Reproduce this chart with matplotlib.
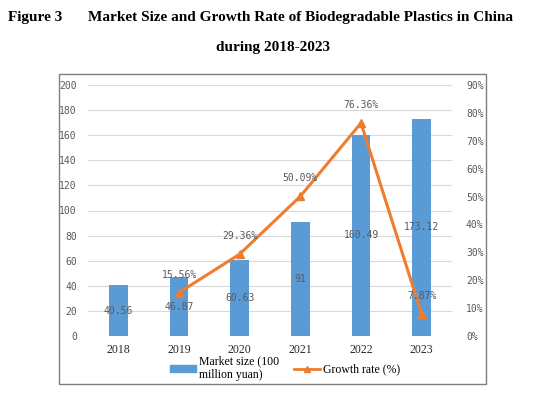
import matplotlib.pyplot as plt
from matplotlib.patches import Rectangle, Patch
from matplotlib.lines import Line2D

# data
years = ['2018', '2019', '2020', '2021', '2022', '2023']
market_size = [40.56, 46.87, 60.63, 91, 160.49, 173.12]
growth_years = ['2019', '2020', '2021', '2022', '2023']
growth_rate = [15.56, 29.36, 50.09, 76.36, 7.87]
size_labels = ['40.56', '46.87', '60.63', '91', '160.49', '173.12']
rate_labels = ['15.56%', '29.36%', '50.09%', '76.36%', '7.87%']

blue = '#5B9BD5'
orange = '#ED7D31'
grey_txt = '#595959'
mono = 'DejaVu Sans Mono'
serif = 'Liberation Serif'

fig = plt.figure(figsize=(5.44, 3.94), dpi=100)

# titles
fig.text(8 / 544, 1 - 17 / 394, 'Figure 3', fontsize=11, fontweight='bold',
         family=serif, va='center', ha='left')
fig.text(88 / 544, 1 - 17 / 394,
         'Market Size and Growth Rate of Biodegradable Plastics in China',
         fontsize=11, fontweight='bold', family=serif, va='center', ha='left')
fig.text(273 / 544, 1 - 48 / 394, 'during 2018-2023', fontsize=11,
         fontweight='bold', family=serif, va='center', ha='center')

# chart frame
fig.patches.append(Rectangle((59 / 544, 1 - 384 / 394), (486 - 59) / 544,
                             (384 - 74) / 394, transform=fig.transFigure,
                             fill=False, edgecolor='#7F7F7F', linewidth=1.0))

ax = fig.add_axes([88 / 544, 1 - 336 / 394, 364 / 544, 251 / 394])
x = list(range(len(years)))
ax.bar(x, market_size, width=0.31, color=blue, zorder=2)
ax.set_xlim(-0.5, len(years) - 0.5)
ax.set_ylim(0, 200)
ax.set_yticks(range(0, 201, 20))
ax.grid(axis='y', color='#D9D9D9', linewidth=0.8, zorder=0)
for s in ax.spines.values():
    s.set_visible(False)
ax.tick_params(length=0)
ax.set_xticks(x)
ax.set_xticklabels(years, family=serif, fontsize=8.5, color='#262626')
ax.tick_params(axis='x', pad=6)
for lab in ax.get_yticklabels():
    lab.set_family(mono)
    lab.set_fontsize(7)
    lab.set_color(grey_txt)
ax.tick_params(axis='y', pad=8)

for xi, v, t in zip(x, market_size, size_labels):
    ax.text(xi, v / 2, t, ha='center', va='center', family=mono,
            fontsize=7, color=grey_txt, zorder=4)

ax2 = ax.twinx()
gx = [years.index(y) for y in growth_years]
ax2.plot(gx, growth_rate, color=orange, linewidth=2.2, marker='^',
         markersize=6, zorder=3)
ax2.set_ylim(0, 90)
ax2.set_yticks(range(0, 91, 10))
ax2.set_yticklabels([f'{v}%' for v in range(0, 91, 10)])
for s in ax2.spines.values():
    s.set_visible(False)
ax2.tick_params(length=0, pad=10)
for lab in ax2.get_yticklabels():
    lab.set_family(mono)
    lab.set_fontsize(7)
    lab.set_color(grey_txt)

for xi, v, t in zip(gx, growth_rate, rate_labels):
    ax2.annotate(t, (xi, v), xytext=(0, 13), textcoords='offset points',
                 ha='center', va='center', family=mono, fontsize=7,
                 color=grey_txt, zorder=4)

handles = [Patch(color=blue),
           Line2D([], [], color=orange, linewidth=2, marker='^', markersize=4)]
labels = ['Market size (100\nmillion yuan)', 'Growth rate (%)']
fig.legend(handles, labels, loc='center', bbox_to_anchor=(285 / 544, 1 - 368 / 394),
           ncol=2, frameon=False, prop={'family': serif, 'size': 8.5},
           handlelength=2.2, handleheight=0.5, columnspacing=1.2,
           handletextpad=0.3)

fig.savefig('out.png', dpi=100)
